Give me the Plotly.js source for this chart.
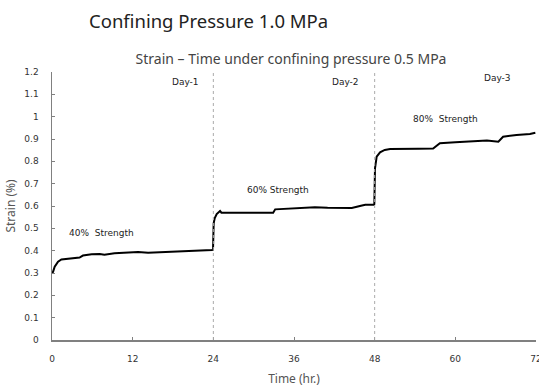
<!DOCTYPE html>
<html>
<head>
<meta charset="utf-8">
<script src="https://cdn.plot.ly/plotly-3.0.1.min.js"></script>
<style>html,body{margin:0;padding:0;background:#fff;}#chart{width:539px;height:389px;}</style>
</head>
<body>
<div id="chart"></div>
<script>
// Time (hr.) and strain (%)
const timeHr = [0, 0.15, 0.4, 0.9, 1.4, 2.4, 3.2, 4.1, 4.6, 5.9, 7.1, 7.8, 9.3, 11.3, 12.8, 14.3, 16.0, 18.0, 20.5, 22.0, 23.8, 23.95,
  24.05, 24.2, 24.5, 25.0, 25.2, 28.0, 32.9, 33.2, 34.7, 36.2, 37.6, 39.1, 41.0, 42.6, 44.6, 45.8, 46.6, 47.9, 47.95,
  48.05, 48.3, 48.8, 49.5, 50.3, 52.5, 54.5, 56.7, 57.2, 57.7, 60.0, 62.0, 64.7, 66.4, 67.1, 69.1, 71.1, 71.9];
const strain = [0.30, 0.305, 0.328, 0.351, 0.361, 0.364, 0.366, 0.369, 0.378, 0.384, 0.385, 0.382, 0.388, 0.393, 0.394, 0.391, 0.393, 0.394, 0.400, 0.401, 0.403, 0.405,
  0.522, 0.545, 0.564, 0.578, 0.570, 0.570, 0.570, 0.585, 0.587, 0.590, 0.590, 0.594, 0.592, 0.593, 0.591, 0.600, 0.606, 0.606, 0.608,
  0.769, 0.821, 0.840, 0.851, 0.855, 0.854, 0.856, 0.857, 0.869, 0.881, 0.885, 0.888, 0.893, 0.888, 0.910, 0.918, 0.922, 0.928];

const dayMarks = [24, 48];
const dayLabels = ['Day-1', 'Day-2', 'Day-3'];
const dayLabelX = [19.8, 43.6, 66.2];
const dayLabelY = [1.155, 1.155, 1.173];
const stageLabels = ['40%  Strength', '60% Strength', '80%  Strength'];
const stageLabelX = [7.3, 33.6, 58.5];
const stageLabelY = [0.479, 0.672, 0.99];
const xTicks = [0, 12, 24, 36, 48, 60, 72];
const yTicks = [0, 0.1, 0.2, 0.3, 0.4, 0.5, 0.6, 0.7, 0.8, 0.9, 1, 1.1, 1.2];
const yTickText = yTicks.map(v => String(Math.round(v * 10) / 10));

const FONT = 'DejaVu Sans, sans-serif';

const annotations = [];
dayLabels.forEach((t, i) => annotations.push({
  x: dayLabelX[i], y: dayLabelY[i], xref: 'x', yref: 'y', text: t, showarrow: false,
  font: {family: FONT, size: 9, color: '#222'}
}));
stageLabels.forEach((t, i) => annotations.push({
  x: stageLabelX[i], y: stageLabelY[i], xref: 'x', yref: 'y', text: t, showarrow: false,
  font: {family: FONT, size: 9, color: '#222'}
}));
annotations.push({
  x: 0.0723, y: 1.194, xref: 'paper', yref: 'paper', text: 'Confining Pressure 1.0 MPa', showarrow: false,
  xanchor: 'left', yanchor: 'middle', font: {family: 'Noto Sans, sans-serif', size: 18.5, color: '#222'}
});

const shapes = dayMarks.map(d => ({
  type: 'line', xref: 'x', yref: 'y', x0: d, x1: d, y0: 0, y1: 1.2,
  line: {color: '#aaa', width: 1, dash: 'dot'}
}));

const layout = {
  width: 539, height: 389,
  margin: {l: 52, r: 3, t: 72, b: 49, pad: 0},
  paper_bgcolor: '#fff', plot_bgcolor: '#fff',
  showlegend: false,
  title: {text: 'Strain \u2013 Time under confining pressure 0.5 MPa', x: 0.54, xanchor: 'center', y: 0.848, yanchor: 'middle',
    font: {family: 'Noto Sans, sans-serif', size: 14, color: '#444'}},
  xaxis: {range: [0, 72], tickvals: xTicks, ticktext: xTicks.map(String), showgrid: false, zeroline: false,
    showline: true, linecolor: '#808080', linewidth: 1.5, ticks: 'inside', ticklen: 3, tickcolor: '#808080',
    ticklabelstandoff: 10, ticklabeloverflow: 'allow', automargin: false, tickfont: {family: FONT, size: 9, color: '#333'},
    title: {text: 'Time (hr.)', standoff: 11, font: {family: 'Noto Sans, sans-serif', size: 12, color: '#555'}}},
  yaxis: {range: [0, 1.2], tickvals: yTicks, ticktext: yTickText, showgrid: false, zeroline: false,
    showline: true, linecolor: '#808080', linewidth: 1.5, ticks: 'inside', ticklen: 3, tickcolor: '#808080',
    ticklabelstandoff: 10, tickfont: {family: FONT, size: 9, color: '#333'},
    title: {text: 'Strain (%)', standoff: 6, font: {family: 'Noto Sans, sans-serif', size: 12, color: '#555'}}},
  annotations: annotations,
  shapes: shapes
};

Plotly.newPlot('chart', [{
  x: timeHr, y: strain, type: 'scatter', mode: 'lines',
  line: {color: '#000', width: 2}, hoverinfo: 'skip'
}], layout, {staticPlot: true, displayModeBar: false});
</script>
</body>
</html>
